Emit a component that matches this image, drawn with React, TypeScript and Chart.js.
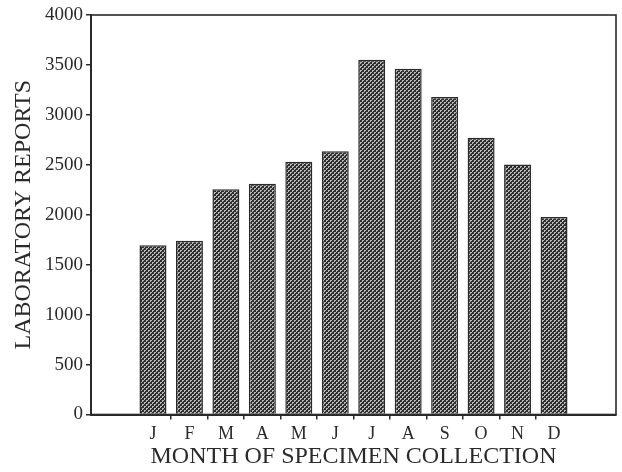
import React, { useEffect, useRef } from "react";
import { Chart, registerables } from "chart.js";

Chart.register(...registerables);

const months = ["J", "F", "M", "A", "M", "J", "J", "A", "S", "O", "N", "D"];
const positions = [1, 2, 3, 4, 5, 6, 7, 8, 9, 10, 11, 12];
const reports = [1695, 1740, 2255, 2310, 2530, 2635, 3552, 3462, 3178, 2772, 2502, 1978];
const yTicks = [0, 500, 1000, 1500, 2000, 2500, 3000, 3500, 4000];
const xTickMarks = [1.5, 2.5, 3.5, 4.5, 5.5, 6.5, 7.5, 8.5, 9.5, 10.5, 11.5];
const yTitle = "LABORATORY REPORTS";
const xTitle = "MONTH OF SPECIMEN COLLECTION";

const INK = "#2a2a2a";
const FONT = "'Liberation Serif', 'Times New Roman', serif";

function makePattern(): CanvasPattern | string {
  const c = document.createElement("canvas");
  c.width = 4;
  c.height = 4;
  const g = c.getContext("2d");
  if (!g) return "#666";
  g.fillStyle = "#b8b8b8";
  g.fillRect(0, 0, 4, 4);
  g.fillStyle = "#303030";
  for (let y = 0; y < 4; y++) {
    for (let x = 0; x < 4; x++) {
      if ((x + y) % 4 < 2 || (x - y + 8) % 4 === 0) g.fillRect(x, y, 1, 1);
    }
  }
  const p = g.createPattern(c, "repeat");
  return p || "#666";
}

const frame = {
  id: "frame",
  afterDraw(chart: any) {
    const { ctx, chartArea } = chart;
    ctx.save();
    ctx.strokeStyle = INK;
    ctx.lineWidth = 1.6;
    ctx.strokeRect(chartArea.left, chartArea.top, chartArea.right - chartArea.left, chartArea.bottom - chartArea.top);
    ctx.restore();
  },
};

export default function App() {
  const ref = useRef<HTMLCanvasElement>(null);
  useEffect(() => {
    if (!ref.current) return;
    const pattern = makePattern();
    const chart = new Chart(ref.current, {
      type: "bar",
      data: {
        datasets: [
          {
            data: positions.map((x, i) => ({ x, y: reports[i] })),
            backgroundColor: pattern as any,
            borderColor: INK,
            borderWidth: 1.5,
            barPercentage: 1.48,
            categoryPercentage: 1,
          },
        ],
      },
      options: {
        animation: false,
        responsive: true,
        maintainAspectRatio: false,
        layout: { padding: { left: 0, top: 15, right: 6, bottom: 0 } },
        plugins: { legend: { display: false }, tooltip: { enabled: false } },
        scales: {
          x: {
            type: "linear",
            offset: false,
            min: -0.7,
            max: 13.7,
            afterBuildTicks: (scale: any) => {
              scale.ticks = [...positions, ...xTickMarks].sort((a, b) => a - b).map((v) => ({ value: v }));
            },
            afterFit: (scale: any) => {
              scale.height = 57.5;
            },
            ticks: {
              autoSkip: false,
              maxRotation: 0,
              padding: 4,
              color: INK,
              font: { family: FONT, size: 18 },
              callback: (v: any) => {
                const i = positions.indexOf(Number(v));
                return i >= 0 ? months[i] : "";
              },
            },
            grid: {
              offset: false,
              drawOnChartArea: false,
              drawTicks: true,
              tickLength: 5,
              lineWidth: 1.5,
              color: (ctx: any) => (ctx.tick && Number.isInteger(ctx.tick.value) ? "rgba(0,0,0,0)" : INK),
            },
            border: { display: true, color: INK, width: 2 },
            title: {
              display: true,
              text: xTitle,
              color: INK,
              font: { family: FONT, size: 24 },
              padding: { top: 0, bottom: 1 },
            },
          },
          y: {
            min: 0,
            max: 4000,
            afterBuildTicks: (scale: any) => {
              scale.ticks = yTicks.map((v) => ({ value: v }));
            },
            afterFit: (scale: any) => {
              scale.width = 91;
            },
            ticks: {
              padding: 3,
              color: INK,
              font: { family: FONT, size: 19 },
              callback: (v: any) => String(v),
            },
            grid: {
              drawOnChartArea: false,
              drawTicks: true,
              tickLength: 5,
              lineWidth: 1.5,
              color: INK,
            },
            border: { display: true, color: INK, width: 2 },
            title: {
              display: true,
              text: yTitle,
              color: INK,
              font: { family: FONT, size: 24 },
              padding: { top: 9, bottom: 0 },
            },
          },
        },
      },
      plugins: [frame],
    });
    return () => chart.destroy();
  }, []);
  return (
    <div style={{ position: "absolute", left: 0, top: 0, width: 622, height: 472, background: "#fff" }}>
      <canvas ref={ref} />
    </div>
  );
}
